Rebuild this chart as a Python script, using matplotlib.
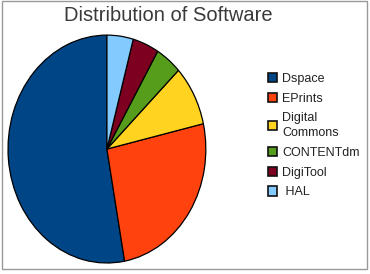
import matplotlib.pyplot as plt
from matplotlib.patches import Rectangle

plt.rcParams['font.family'] = ['Liberation Sans', 'DejaVu Sans']

software = ['Dspace', 'EPrints', 'Digital\nCommons', 'CONTENTdm', 'DigiTool', ' HAL']
counts = [37, 18, 6, 3, 3, 3]
colors = ['#004586', '#ff420e', '#ffd320', '#579d1c', '#7e0021', '#83caff']

fig = plt.figure(figsize=(3.7, 2.74), dpi=100)
fig.patch.set_facecolor('white')

# pie is stretched vertically in the original, so aspect is left free
ax = fig.add_axes([0.019, 0.036, 0.54, 0.84])
wedges, _ = ax.pie(counts, colors=colors, startangle=90, counterclock=True,
                   wedgeprops=dict(edgecolor='black', linewidth=0.9))
ax.set_aspect('auto')
ax.set_xlim(-1.01, 1.01)
ax.set_ylim(-1.01, 1.01)

fig.text(0.455, 0.942, 'Distribution of Software', ha='center', va='center',
         fontsize=14.5, color='#3a3a3a')

leg = fig.legend(wedges, software, loc='upper left',
                 bbox_to_anchor=(0.693, 0.775), frameon=False,
                 fontsize=9, handlelength=0.75, handleheight=0.75,
                 handletextpad=0.4, labelspacing=0.62)
for t in leg.get_texts():
    t.set_color('#222222')
    t.set_linespacing(1.3)
for h in leg.legend_handles:
    h.set_edgecolor('#111111')
    h.set_linewidth(1.2)

# thin grey frame around the picture
fig.patches.append(Rectangle((0.005, 0.018), 0.988, 0.98, transform=fig.transFigure,
                             fill=False, edgecolor='#999999', linewidth=1))

fig.savefig('out.png', dpi=100)
